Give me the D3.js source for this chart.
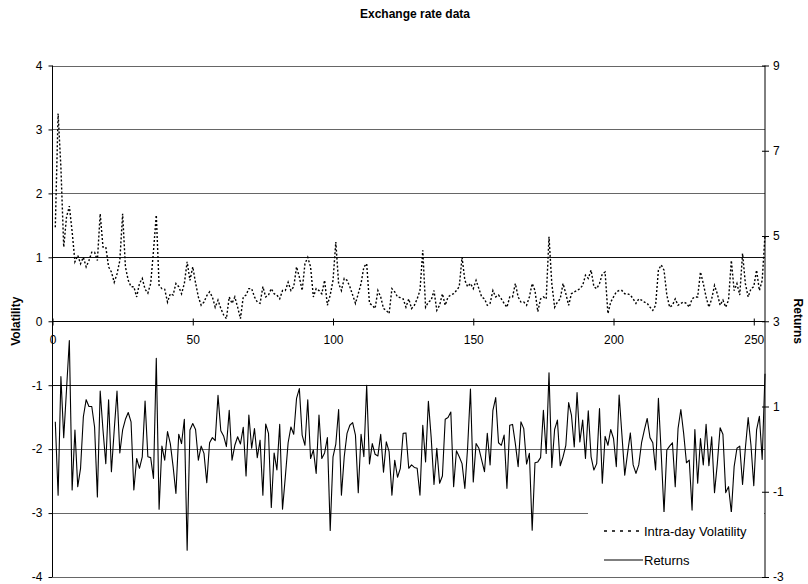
<!DOCTYPE html>
<html><head><meta charset="utf-8">
<script src="https://cdn.jsdelivr.net/npm/d3@7"></script>
<style>
body{margin:0;background:#fff;}
text{font-family:"Liberation Sans",Arial,sans-serif;fill:#000;}
</style></head>
<body><svg id="c" width="808" height="584"></svg>
<script>
const title = "Exchange rate data";
const leftTicks = [-4,-3,-2,-1,0,1,2,3,4];
const rightTicks = [-3,-1,1,3,5,7,9];
const xTicks = [0,50,100,150,200,250];
const seriesNames = ["Intra-day Volatility","Returns"];
const volatility = [1.47,3.25,2.4,1.16,1.63,1.8,1.4,0.93,1.03,0.9,1.0,0.85,0.95,1.08,1.08,0.95,1.68,1.16,1.16,0.85,
0.77,0.61,0.74,0.95,1.68,0.85,0.64,0.54,0.54,0.38,0.59,0.67,0.5,0.44,0.59,1.1,1.66,0.56,0.51,0.5,
0.3,0.43,0.41,0.59,0.54,0.43,0.59,0.93,0.64,0.85,0.6,0.38,0.25,0.3,0.4,0.46,0.38,0.22,0.33,0.2,
0.1,0.04,0.38,0.28,0.38,0.22,0.04,0.38,0.41,0.51,0.51,0.38,0.3,0.28,0.54,0.38,0.41,0.51,0.43,0.41,
0.35,0.48,0.48,0.61,0.48,0.54,0.85,0.69,0.48,0.9,1.0,0.85,0.38,0.51,0.48,0.43,0.64,0.25,0.41,0.64,
1.24,0.59,0.48,0.67,0.64,0.54,0.41,0.28,0.43,0.59,0.85,0.9,0.28,0.25,0.2,0.48,0.38,0.2,0.17,0.12,
0.51,0.46,0.38,0.37,0.35,0.22,0.35,0.2,0.25,0.35,0.48,1.11,0.22,0.3,0.33,0.48,0.17,0.25,0.43,0.25,
0.38,0.41,0.43,0.48,0.54,1.0,0.64,0.54,0.59,0.51,0.64,0.51,0.38,0.35,0.25,0.28,0.48,0.38,0.41,0.35,
0.28,0.22,0.38,0.38,0.59,0.38,0.3,0.3,0.25,0.38,0.59,0.48,0.15,0.35,0.38,0.35,1.32,0.59,0.22,0.3,
0.35,0.59,0.43,0.25,0.43,0.46,0.48,0.51,0.56,0.72,0.67,0.8,0.54,0.51,0.59,0.74,0.77,0.12,0.3,0.38,
0.46,0.48,0.48,0.43,0.43,0.41,0.35,0.28,0.35,0.33,0.3,0.28,0.22,0.17,0.25,0.8,0.88,0.8,0.41,0.22,
0.25,0.35,0.25,0.28,0.3,0.28,0.22,0.35,0.38,0.38,0.77,0.59,0.38,0.22,0.35,0.56,0.43,0.25,0.33,0.22,
0.33,0.95,0.48,0.59,0.41,1.06,0.59,0.38,0.51,0.54,0.8,0.48,0.64,1.35];
const returns = [0.64,-1.08,1.7,0.27,1.4,2.55,-0.96,0.45,-0.88,-0.45,0.76,1.16,1.0,1.0,0.52,-1.12,1.36,0.45,-0.34,1.16,
-0.53,0.45,1.36,-0.09,0.45,0.7,0.86,0.64,-0.96,-0.22,-0.45,-0.18,1.13,-0.18,-0.2,-0.69,2.13,-1.41,0.07,-0.26,
0.41,0.13,-0.41,-1.04,0.35,0.13,0.7,-2.37,0.45,0.6,0.46,-0.26,0.07,-0.1,-0.79,0.15,0.27,0.2,1.26,0.43,
0.31,0.06,0.91,-0.26,0.09,0.29,0.12,0.51,-0.63,0.8,0.02,0.48,-0.2,0.21,-1.08,0.59,0.37,-1.37,-0.09,-0.49,
0.58,-1.41,-0.65,0.15,0.52,0.35,1.19,1.42,0.33,0.09,1.16,-0.22,-0.02,-0.57,0.8,-0.22,-0.09,0.27,-1.91,-0.18,
0.12,0.93,-1.08,-0.18,0.37,0.56,0.62,0.33,-1.02,0.35,-0.18,1.5,-0.35,0.13,-0.12,-0.16,0.35,-0.54,0.17,-0.06,
-1.08,-0.26,-0.66,-0.45,0.37,0.38,-0.45,-0.37,-0.43,-0.45,-1.08,0.56,-0.3,1.12,0.27,-0.83,0.02,-0.8,-0.63,0.7,
0.74,0.87,-0.88,-0.04,-0.18,-0.34,-0.92,0.05,1.41,-0.77,0.13,0.02,-0.26,-0.53,0.37,-0.37,0.91,1.21,0.15,0.09,
0.33,-0.92,0.56,0.58,0.13,-0.41,0.64,0.48,-0.35,-0.1,-1.9,-0.32,-0.3,-0.2,0.91,-0.1,1.79,-0.43,0.46,0.68,
-0.39,-0.18,0.09,1.09,0.8,0.05,1.33,0.17,0.68,-0.22,0.9,-0.18,-0.49,-0.34,0.95,-0.8,0.3,0.09,0.46,0.25,
-0.41,1.27,0.33,-0.61,-0.1,0.38,-0.37,-0.57,-0.37,0.15,0.45,0.72,0.27,0.15,-0.49,1.19,-0.1,-1.49,-0.02,0.07,
0.15,-0.88,0.48,0.93,0.37,-0.32,-0.26,-1.43,0.46,-0.8,0.25,-0.37,0.58,-0.39,0.29,-1.02,-0.34,0.5,0.35,-1.02,
-0.88,-1.49,-0.41,0.02,0.07,-0.83,0.02,0.74,0.09,-0.86,0.45,0.77,-0.24,1.77];

const svg = d3.select("#c");
const L = 52.5, R = 765, T = 65.5, B = 577;
const x = d3.scaleLinear().domain([0,254]).range([L,R]);
const yL = d3.scaleLinear().domain([-4,4]).range([B,T]);
const yR = d3.scaleLinear().domain([-3,9]).range([B,T]);
const fmt = d => String(d);

// gridlines
svg.append("g").selectAll("line").data(leftTicks.filter(d=>d!==0)).join("line")
  .attr("x1",L).attr("x2",R).attr("y1",d=>Math.round(yL(d))+0.5).attr("y2",d=>Math.round(yL(d))+0.5)
  .attr("stroke",d=>(d===1||d===-1)?"#111":"#666").attr("stroke-width",1);

// title
svg.append("text").attr("x",415).attr("y",18).attr("text-anchor","middle")
  .style("font-size","12px").style("font-weight","bold").text(title);

// lines
const volLine = d3.line().x((d,i)=>x(i+1)).y(d=>yL(d));
const retLine = d3.line().x((d,i)=>x(i+1)).y(d=>yR(d));
svg.append("path").datum(returns).attr("d",retLine).attr("fill","none")
  .attr("stroke","#000").attr("stroke-width",1.1).attr("stroke-linejoin","round");
svg.append("path").datum(volatility).attr("d",volLine).attr("fill","none")
  .attr("stroke","#000").attr("stroke-width",1.4).attr("stroke-dasharray","2,2");

// axes
const gx = svg.append("g").attr("transform",`translate(0,${Math.round(yL(0))+0.5})`)
  .call(d3.axisBottom(x).tickValues(xTicks).tickSize(4).tickPadding(10).tickFormat(fmt));
gx.select(".domain").remove();
gx.selectAll(".tick line").attr("y1",-3);
gx.selectAll("text").style("font-size","12px");
svg.append("line").attr("x1",L).attr("x2",R).attr("y1",Math.round(yL(0))+0.5).attr("y2",Math.round(yL(0))+0.5).attr("stroke","#000");

const gl = svg.append("g").attr("transform",`translate(${L},0)`)
  .call(d3.axisLeft(yL).tickValues(leftTicks).tickSize(4).tickPadding(6).tickFormat(fmt));
gl.select(".domain").remove();
gl.selectAll("text").style("font-size","12px");
svg.append("line").attr("x1",L).attr("x2",L).attr("y1",T).attr("y2",B).attr("stroke","#000");

const gr = svg.append("g").attr("transform",`translate(${R},0)`)
  .call(d3.axisRight(yR).tickValues(rightTicks).tickSize(4).tickPadding(4).tickFormat(fmt));
gr.select(".domain").remove();
gr.selectAll(".tick line").attr("x1",-3);
gr.selectAll("text").style("font-size","12px");
svg.append("line").attr("x1",R).attr("x2",R).attr("y1",T).attr("y2",B).attr("stroke","#000");

// axis titles
svg.append("text").attr("transform",`translate(20,${(T+B)/2}) rotate(-90)`).attr("text-anchor","middle")
  .style("font-size","12px").style("font-weight","bold").text("Volatility");
svg.append("text").attr("transform",`translate(794,${(T+B)/2}) rotate(90)`).attr("text-anchor","middle")
  .style("font-size","12px").style("font-weight","bold").text("Returns");

// legend
const lg = svg.append("g");
lg.append("rect").attr("x",588).attr("y",512).attr("width",176).attr("height",62).attr("fill","#fff");
lg.append("line").attr("x1",604).attr("x2",643).attr("y1",531).attr("y2",531)
  .attr("stroke","#000").attr("stroke-width",1.4).attr("stroke-dasharray","3,5");
lg.append("text").attr("x",644).attr("y",535.5).style("font-size","13px").text(seriesNames[0]);
lg.append("line").attr("x1",604).attr("x2",643).attr("y1",560).attr("y2",560)
  .attr("stroke","#000").attr("stroke-width",1.1);
lg.append("text").attr("x",644).attr("y",565).style("font-size","13px").text(seriesNames[1]);
</script></body></html>
